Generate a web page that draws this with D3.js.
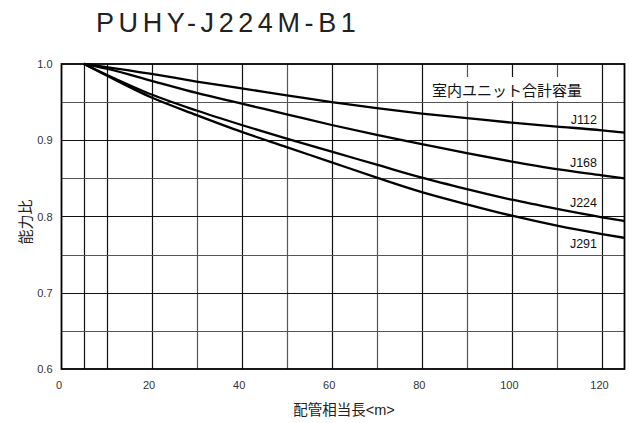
<!DOCTYPE html>
<html>
<head>
<meta charset="utf-8">
<script src="https://cdn.jsdelivr.net/npm/d3@7/dist/d3.min.js"></script>
<style>
  body { margin: 0; background: #fff; }
  svg { display: block; font-family: "Liberation Sans", Arial, "Noto Sans CJK JP", sans-serif; }
</style>
</head>
<body>
<div id="chart"></div>
<script>
// piping length (m) and capacity ratio per total indoor unit capacity
var lengths = [5, 10, 20, 30, 40, 50, 60, 70, 80, 90, 100, 110, 120, 125];
var j112 = [1.0, 0.996, 0.987, 0.977, 0.968, 0.959, 0.950, 0.942, 0.935, 0.929, 0.923, 0.918, 0.913, 0.910];
var j168 = [1.0, 0.994, 0.978, 0.962, 0.948, 0.934, 0.920, 0.907, 0.895, 0.883, 0.872, 0.862, 0.854, 0.850];
var j224 = [1.0, 0.986, 0.960, 0.939, 0.920, 0.902, 0.885, 0.868, 0.851, 0.836, 0.822, 0.810, 0.799, 0.794];
var j291 = [1.0, 0.985, 0.956, 0.933, 0.911, 0.891, 0.871, 0.851, 0.832, 0.816, 0.801, 0.788, 0.777, 0.772];
var seriesNames = ['J112', 'J168', 'J224', 'J291'];
var seriesValues = [j112, j168, j224, j291];

var xTicks = [0, 20, 40, 60, 80, 100, 120];
var yTicks = [0.6, 0.7, 0.8, 0.9, 1.0];
var xGrid = [5, 10, 20, 30, 40, 50, 60, 70, 80, 90, 100, 110, 120];
var yGrid = [0.65, 0.7, 0.75, 0.8, 0.85, 0.9, 0.95];

var title = 'PUHY-J224M-B1';
var legendTitle = '室内ユニット合計容量';
var xLabel = '配管相当長<m>';
var yLabel = '能力比';

var W = 629, H = 423;
var pLeft = 61.5, pTop = 64, pRight = 624.5, pBottom = 369;

var x = d3.scaleLinear().domain([0, 125]).range([pLeft, pRight]);
var y = d3.scaleLinear().domain([0.6, 1.0]).range([pBottom, pTop]);

var svg = d3.select('#chart').append('svg')
  .attr('width', W)
  .attr('height', H);

// title
svg.append('text')
  .attr('x', 96)
  .attr('y', 31.5)
  .style('font-size', '27px')
  .style('letter-spacing', '4.6px')
  .style('fill', '#222')
  .text(title);

// grid lines
svg.append('g').selectAll('line').data(xGrid)
  .enter().append('line')
    .attr('x1', function(d) { return Math.round(x(d)) + 0.5; })
    .attr('x2', function(d) { return Math.round(x(d)) + 0.5; })
    .attr('y1', pTop)
    .attr('y2', pBottom)
    .style('stroke', function(d) { return (d % 20 == 0 || d < 20) ? '#111' : '#555'; })
    .style('stroke-width', 1.2);

svg.append('g').selectAll('line').data(yGrid)
  .enter().append('line')
    .attr('x1', pLeft)
    .attr('x2', pRight)
    .attr('y1', function(d) { return Math.round(y(d)) + 0.5; })
    .attr('y2', function(d) { return Math.round(y(d)) + 0.5; })
    .style('stroke', function(d) { return Math.round(d * 100) % 10 == 0 ? '#111' : '#555'; })
    .style('stroke-width', 1.2);

// white box behind the legend title
svg.append('rect')
  .attr('x', x(81))
  .attr('y', 77)
  .attr('width', x(119.5) - x(81))
  .attr('height', 24)
  .style('fill', '#fff');

svg.append('text')
  .attr('x', 507)
  .attr('y', 96)
  .attr('text-anchor', 'middle')
  .style('font-size', '15px')
  .style('fill', '#111')
  .text(legendTitle);

// curves
var line = d3.line()
  .x(function(d, i) { return x(lengths[i]); })
  .y(function(d) { return y(d); })
  .curve(d3.curveMonotoneX);

svg.append('g').selectAll('path').data(seriesValues)
  .enter().append('path')
    .attr('d', line)
    .style('fill', 'none')
    .style('stroke', '#000')
    .style('stroke-width', 2.3);

// series labels
var labelY = [123.5, 166.5, 207, 248];
svg.append('g').selectAll('text').data(seriesNames)
  .enter().append('text')
    .attr('x', 597)
    .attr('y', function(d, i) { return labelY[i]; })
    .attr('text-anchor', 'end')
    .style('font-size', '12.5px')
    .style('fill', '#111')
    .text(function(d) { return d; });

// frame
svg.append('rect')
  .attr('x', pLeft)
  .attr('y', pTop)
  .attr('width', pRight - pLeft)
  .attr('height', pBottom - pTop)
  .style('fill', 'none')
  .style('stroke', '#000')
  .style('stroke-width', 1.8);

// axes
var xAxis = svg.append('g')
  .attr('transform', 'translate(0,' + pBottom + ')')
  .call(d3.axisBottom(x).tickValues(xTicks).tickSize(0).tickPadding(12).tickFormat(d3.format('d')));
xAxis.select('.domain').remove();
xAxis.selectAll('text').attr('dx', -3).style('font-size', '11px').style('fill', '#333')
  .style('font-family', '"Liberation Sans", Arial, sans-serif');

var yAxis = svg.append('g')
  .attr('transform', 'translate(' + pLeft + ',0)')
  .call(d3.axisLeft(y).tickValues(yTicks).tickSize(0).tickPadding(9).tickFormat(d3.format('.1f')));
yAxis.select('.domain').remove();
yAxis.selectAll('text').style('font-size', '11px').style('fill', '#333')
  .style('font-family', '"Liberation Sans", Arial, sans-serif');

// axis titles
svg.append('text')
  .attr('x', 344)
  .attr('y', 415)
  .attr('text-anchor', 'middle')
  .style('font-size', '14.5px')
  .style('fill', '#222')
  .text(xLabel);

svg.append('text')
  .attr('transform', 'translate(31,222) rotate(-90)')
  .attr('text-anchor', 'middle')
  .style('font-size', '15px')
  .style('fill', '#222')
  .text(yLabel);
</script>
</body>
</html>
